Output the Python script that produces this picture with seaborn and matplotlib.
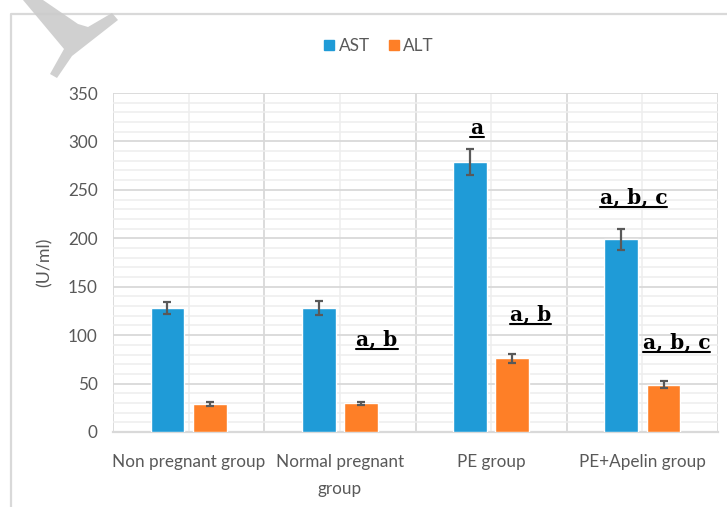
import numpy as np
import pandas as pd
import matplotlib
matplotlib.use("Agg")
import matplotlib.pyplot as plt
from matplotlib.lines import Line2D
from matplotlib.patches import Polygon
import seaborn as sns

# ---- data -------------------------------------------------------------
groups = ["Non pregnant group", "Normal pregnant\ngroup", "PE group", "PE+Apelin group"]
ast_mean = [128, 128, 279, 199]
ast_se = [6.5, 7.0, 13.5, 11.0]
alt_mean = [29, 29.5, 76, 49]
alt_se = [1.8, 1.2, 4.5, 3.5]
markers = ["AST", "ALT"]
y_ticks = [0, 50, 100, 150, 200, 250, 300, 350]
# significance letters: (text, marker, group index)
sig_text = ["a", "a, b, c", "a, b", "a, b", "a, b, c"]
sig_marker = ["AST", "AST", "ALT", "ALT", "ALT"]
sig_group = [2, 3, 1, 2, 3]

df = pd.DataFrame({
    "group": groups * 2,
    "marker": [markers[0]] * len(groups) + [markers[1]] * len(groups),
    "value": ast_mean + alt_mean,
    "se": ast_se + alt_se,
})

# ---- style ------------------------------------------------------------
sns.set_theme(style="white")
plt.rcParams["font.family"] = ["Lato", "DejaVu Sans"]
text_grey = "#595959"
palette = {"AST": "#1f9bd7", "ALT": "#fe7f27"}
label_size = 12.3

W, H = 727, 507
fig = plt.figure(figsize=(W / 100, H / 100), dpi=100)
ax = fig.add_axes([113 / W, 1 - 432 / H, (718 - 113) / W, (432 - 93) / H])

sns.barplot(data=df, x="group", y="value", hue="marker", order=groups,
            hue_order=markers, palette=palette, width=0.56, gap=0.2,
            errorbar=None, saturation=1, legend=False, ax=ax, zorder=3)

# standard-error bars, centred on each drawn bar
for cont, m in zip(ax.containers, markers):
    sub = df[df.marker == m].set_index("group").loc[groups]
    xs = [b.get_x() + b.get_width() / 2 for b in cont]
    hs = [b.get_height() for b in cont]
    ax.errorbar(xs, hs, yerr=sub["se"].values, fmt="none", ecolor="#595959",
                elinewidth=1.6, capsize=3.2, capthick=1.6, zorder=4)

# ---- axes -------------------------------------------------------------
ax.set_xlim(-0.5, len(groups) - 0.5)
ax.set_ylim(0, 350)
ax.set_yticks(y_ticks)
ax.set_yticks(np.arange(0, 351, 10), minor=True)
ax.set_xticks(np.arange(-0.5, len(groups), 1.0), minor=True)
ax.grid(which="major", axis="y", color="#d9d9d9", lw=1.3, zorder=0)
ax.grid(which="minor", axis="y", color="#eeeeee", lw=1.1, zorder=0)
ax.grid(which="minor", axis="x", color="#d9d9d9", lw=1.3, zorder=0)
ax.grid(which="major", axis="x", color="#f0f0f0", lw=1.3, zorder=0)
ax.set_axisbelow(True)
for s in ["top", "right", "left"]:
    ax.spines[s].set_visible(False)
ax.spines["bottom"].set_color("#d9d9d9")
ax.spines["bottom"].set_linewidth(1.6)
ax.tick_params(axis="both", which="both", length=0, colors=text_grey, labelsize=label_size)
ax.tick_params(axis="y", pad=11)
ax.tick_params(axis="x", pad=15.5)
for lab in ax.get_xticklabels():
    lab.set_linespacing(1.9)
ax.set_xlabel("")
ax.set_ylabel("(U/ml)", color=text_grey, fontsize=label_size + 0.5)
ax.yaxis.set_label_coords(-0.1, 0.5)

# legend
handles = [Line2D([], [], ls="none", marker="s", ms=7.5, color=palette[m]) for m in markers]
fig.legend(handles, markers, loc="center", bbox_to_anchor=(0.521, 1 - 46 / H), ncol=2,
           frameon=False, handlelength=0.6, handletextpad=0.25, columnspacing=1.1,
           labelcolor=text_grey, fontsize=label_size)

# ---- significance letters (bold, underlined) ---------------------------
sig_offset = {("AST", 2): (-0.093, 307.7), ("AST", 3): (-0.06, 236.4),
              ("ALT", 1): (0.245, 89.8), ("ALT", 2): (0.258, 114.9),
              ("ALT", 3): (0.225, 86.7)}
sig_artists = []
for t, m, g in zip(sig_text, sig_marker, sig_group):
    dx, y = sig_offset[(m, g)]
    txt = ax.text(g + dx, y, t, ha="center", va="baseline",
                  family=["DejaVu Serif"], weight="bold", fontsize=14.5,
                  color="black", zorder=5)
    sig_artists.append(txt)

fig.canvas.draw()
renderer = fig.canvas.get_renderer()
for txt in sig_artists:
    bb = txt.get_window_extent(renderer)
    y0 = bb.y0 + 0.5
    fig.add_artist(Line2D([bb.x0 / W, bb.x1 / W], [y0 / H, y0 / H],
                          color="black", lw=1.5, transform=fig.transFigure))

# chart frame (top and left edges fall inside the canvas)
fig.add_artist(Line2D([11 / W, 11 / W, 1.01], [-0.01, 1 - 14 / H, 1 - 14 / H],
                      color="#d9d9d9", lw=1.6, transform=fig.transFigure))

# grey watermark stroke in the top-left corner
wm = [(23, 0), (43, 0), (78, 24), (88, 27), (112, 13), (118, 20),
      (72, 56), (57, 78), (50, 74), (64, 49)]
fig.add_artist(Polygon([(x / W, 1 - y / H) for x, y in wm], closed=True,
                       facecolor="#cbcbcb", edgecolor="none", alpha=0.9,
                       transform=fig.transFigure, zorder=10))

fig.savefig("out.png", dpi=100)
